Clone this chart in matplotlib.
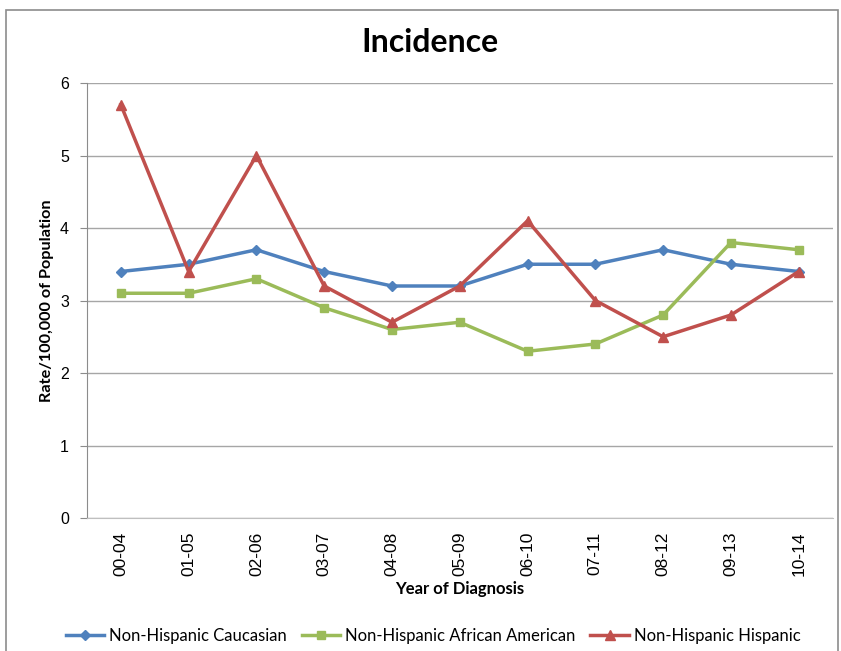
import matplotlib
matplotlib.use("Agg")
import matplotlib.pyplot as plt
from matplotlib.patches import Rectangle

# data
years = ['00-04', '01-05', '02-06', '03-07', '04-08', '05-09',
         '06-10', '07-11', '08-12', '09-13', '10-14']
caucasian = [3.4, 3.5, 3.7, 3.4, 3.2, 3.2, 3.5, 3.5, 3.7, 3.5, 3.4]
african_american = [3.1, 3.1, 3.3, 2.9, 2.6, 2.7, 2.3, 2.4, 2.8, 3.8, 3.7]
hispanic = [5.7, 3.4, 5.0, 3.2, 2.7, 3.2, 4.1, 3.0, 2.5, 2.8, 3.4]

fig = plt.figure(figsize=(8.41, 6.51), dpi=100)
ax = fig.add_axes([0.1034, 0.2043, 0.8866, 0.6682])

# chart frame
fig.patches.append(Rectangle((6 / 841, -0.1), 832 / 841, 1.1 - 10 / 651,
                             transform=fig.transFigure, fill=False,
                             edgecolor='#8c8c8c', linewidth=1.2))

x = range(len(years))
ax.plot(x, caucasian, color='#4F81BD', lw=2.5, marker='D', ms=5,
        label='Non-Hispanic Caucasian')
ax.plot(x, african_american, color='#9BBB59', lw=2.5, marker='s', ms=6,
        label='Non-Hispanic African American')
ax.plot(x, hispanic, color='#C0504D', lw=2.5, marker='^', ms=7,
        label='Non-Hispanic Hispanic')

ax.set_xlim(-0.5, len(years) - 0.5)
ax.set_ylim(0, 6)
ax.set_yticks(range(0, 7))
ax.set_xticks(list(x))
ax.set_xticklabels(years, rotation=90, fontsize=12.5, family='Liberation Sans')
for lab in ax.get_yticklabels():
    lab.set_family('Liberation Sans')
    lab.set_fontsize(11.5)

ax.grid(axis='y', color='#a6a6a6', lw=1)
ax.set_axisbelow(True)
for s in ['top', 'right']:
    ax.spines[s].set_visible(False)
ax.spines['left'].set_color('#8c8c8c')
ax.spines['bottom'].set_color('#bfbfbf')
ax.tick_params(axis='y', length=5, color='#8c8c8c', pad=8)
ax.tick_params(axis='x', length=0, pad=10)

fig.text(430 / 841, 1 - 43 / 651, 'Incidence', fontsize=23, fontweight='bold',
         family='Lato', ha='center', va='center')
ax.set_ylabel('Rate/100,000 of Population', fontsize=11.7, fontweight='bold',
              family='Lato', labelpad=4)
ax.set_xlabel('Year of Diagnosis', fontsize=12, fontweight='bold',
              family='Lato', labelpad=3)

fig.legend(loc='lower center', bbox_to_anchor=(0.515, -0.012), ncol=3,
           frameon=False, prop={'family': 'Lato', 'size': 12},
           handlelength=2.3, columnspacing=0.9, handletextpad=0.3)

fig.savefig('out.png', dpi=100)
